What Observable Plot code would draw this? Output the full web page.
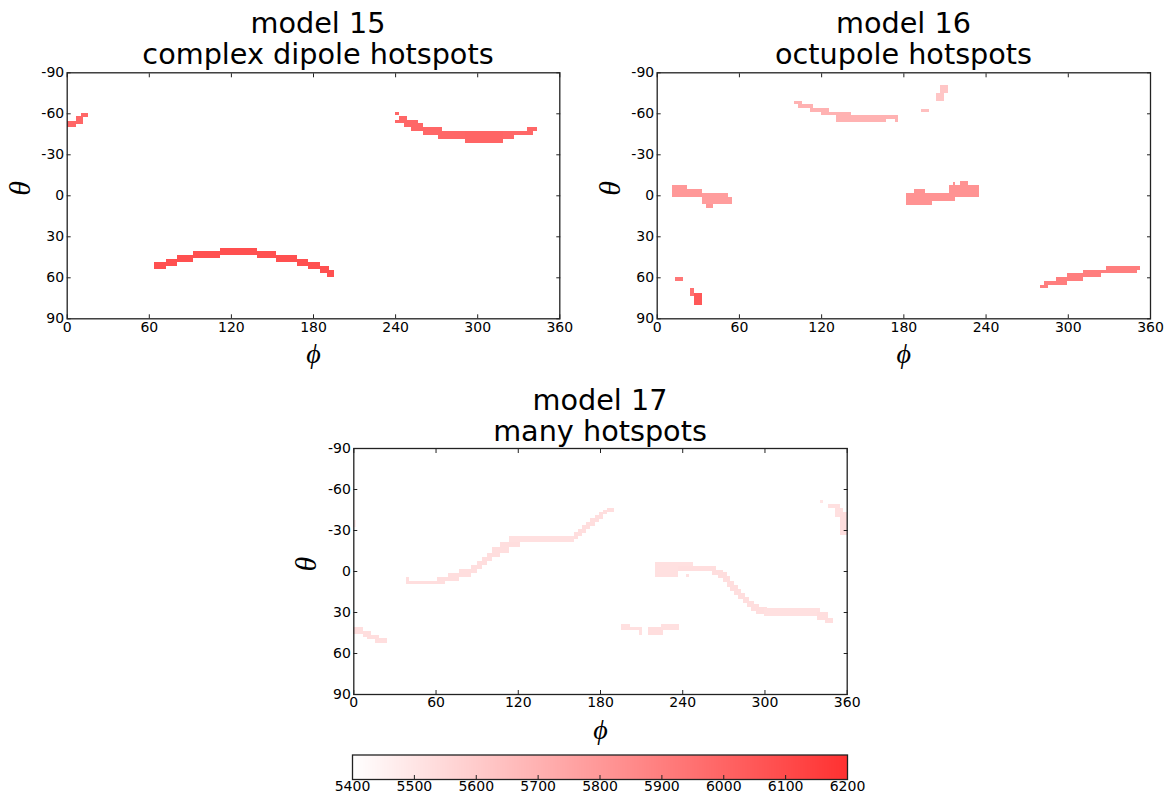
<!DOCTYPE html>
<html>
<head>
<meta charset="utf-8">
<script src="https://cdn.jsdelivr.net/npm/d3@7"></script>
<script src="https://cdn.jsdelivr.net/npm/@observablehq/plot@0.6"></script>
<style>
  body { margin: 0; background: #fff; }
  #fig { position: relative; width: 1166px; height: 797px; font-family: "DejaVu Sans", sans-serif; overflow: hidden; }
  .title { position: absolute; text-align: center; font-size: 28.7px; line-height: 31px; color: #000; white-space: nowrap; }
  .panel { position: absolute; }
</style>
</head>
<body>
<div id="fig"></div>
<script>
// Axis ticks (degrees) and colour bar ticks (K)
const phiTicks = [0, 60, 120, 180, 240, 300, 360];
const thetaTicks = [-90, -60, -30, 0, 30, 60, 90];
const tempTicks = [5400, 5500, 5600, 5700, 5800, 5900, 6000, 6100, 6200];
const tempDomain = [5400, 6200];

// Hotspot cells: [phi from, phi to, theta from, theta to, temperature]
// model 15 — complex dipole
const m15West = [
  [0, 7, -54.5, -50, 5990],
  [7, 12, -58, -52.5, 5990],
  [10.5, 15.5, -60.5, -57.5, 5990]
];
const m15North = [
  [240, 243, -61, -59, 5990],
  [240, 243, -55, -52.7, 5990],
  [243, 246.6, -58.3, -52.7, 5990],
  [246.6, 249, -58.3, -50.2, 5990],
  [249, 251.7, -54.9, -50.2, 5990],
  [251.7, 257, -54.9, -47, 5990],
  [257, 260.7, -52.7, -47, 5990],
  [260.7, 271.4, -50.2, -44.1, 5990],
  [271.4, 274.1, -50.2, -41, 5990],
  [274.1, 291.4, -46.8, -41, 5990],
  [291.4, 318.7, -46.8, -38.3, 6000],
  [318.7, 327.2, -46.8, -41, 5990],
  [327.2, 336.3, -46.8, -44.1, 5990],
  [336.3, 341.1, -49.8, -44.1, 5990],
  [341.1, 344, -49.8, -46.8, 5990]
];
const m15South = [
  [63.8, 72.4, 49, 54, 6080],
  [72.4, 80.8, 46.5, 51.5, 6080],
  [80.8, 92, 43.5, 49, 6080],
  [92, 112, 41, 46, 6080],
  [112, 139, 38.5, 44, 6080],
  [139, 153, 41, 46, 6080],
  [153, 168, 43.5, 49, 6080],
  [168, 176, 46.5, 51.5, 6080],
  [176, 185, 49, 54, 6080],
  [185, 192, 51.5, 57, 6080],
  [190, 195, 55, 60, 6080]
];

// model 16 — octupole
const m16North = [
  [100, 106, -69, -66.5, 5700],
  [103, 114, -66.5, -64, 5700],
  [112, 126, -64, -61, 5700],
  [120, 142, -61, -58.5, 5700],
  [131, 176, -58.5, -56, 5700],
  [131, 167, -56, -53.5, 5700],
  [174, 176, -56, -53.5, 5700]
];
const m16Polar = [
  [204, 210, -75, -69, 5620],
  [207, 212.5, -80.5, -75, 5620],
  [193, 199, -63.5, -61, 5650]
];
const m16EquatorWest = [
  [11, 22, -7.3, 1.2, 5800],
  [22, 33, -4.4, 1.2, 5800],
  [33, 52.3, -1.5, 6.4, 5780],
  [52.3, 55.2, 1, 6.4, 5780],
  [36, 41, 6.4, 9, 5800]
];
const m16EquatorEast = [
  [182, 201, -2, 7, 5820],
  [188, 196, -4.8, -2, 5820],
  [201, 218, -2, 4, 5820],
  [213, 235, -7.3, 1, 5820],
  [216, 218, -10, -7.3, 5820],
  [221, 227.4, -10.2, -7.3, 5820]
];
const m16South = [
  [279.4, 285.3, 65.9, 68, 5900],
  [282.3, 291.6, 62.9, 65.9, 5900],
  [291.6, 299.6, 60, 65.9, 5900],
  [299.6, 311.3, 57, 63, 5900],
  [311.3, 324.4, 54.7, 60, 5900],
  [324.4, 327.6, 54.7, 57, 5900],
  [327.6, 350.2, 51.7, 57, 5900],
  [350.2, 352.6, 51.7, 54.4, 5900]
];
const m16SouthPolar = [
  [13, 19, 60, 63, 5930],
  [24, 27.5, 68, 74, 5950],
  [27, 33, 71.3, 80, 6050]
];

// model 17 — many hotspots
const m17Belt = [
  [0, 2, -37, -32, 5460],
  [38.5, 66.9, 7.3, 9.7, 5530],
  [38.5, 41, 4.2, 7.3, 5530],
  [60.8, 77.3, 4.2, 7.3, 5530],
  [69.3, 85.7, 1.7, 4.6, 5530],
  [77.3, 90, -1.2, 1.7, 5530],
  [85.7, 94.1, -4.2, -1.2, 5530],
  [90, 97.3, -7.1, -4.2, 5530],
  [94.1, 101, -10, -7.1, 5530],
  [97.3, 107.2, -13, -10, 5530],
  [101, 113.8, -17.8, -13, 5530],
  [107.2, 121.8, -21.2, -17.8, 5530],
  [113.8, 161, -25.6, -21.2, 5520],
  [161, 164, -28.5, -23.5, 5530],
  [164, 167, -31, -25.5, 5530],
  [167, 170, -33.5, -28, 5530],
  [170, 173, -36, -30.5, 5530],
  [173, 176, -38.5, -33, 5530],
  [176, 179, -41, -35.5, 5530],
  [179, 182, -43, -38, 5530],
  [182, 185, -45, -41.5, 5530],
  [185, 190, -46, -43, 5530]
];
const m17East = [
  [340.5, 343, -52, -49.6, 5500],
  [346.6, 355.1, -49, -45.9, 5520],
  [351.5, 357.6, -46, -39.7, 5520],
  [355.1, 360, -43.4, -26.3, 5530]
];
const m17Arc = [
  [220, 248, -6.6, -3.2, 5520],
  [220, 237, -3.2, 4.6, 5520],
  [243, 245, 2.3, 4.2, 5520],
  [237, 265, -4, 0, 5530],
  [261.5, 270, -1, 3, 5530],
  [266, 272.5, 1, 5, 5530],
  [270, 275, 4, 8, 5530],
  [272.5, 277.5, 7, 11.5, 5530],
  [275, 280.5, 10, 14.5, 5530],
  [278, 283, 13, 17.5, 5530],
  [281, 286, 16, 20.5, 5530],
  [284, 289, 19, 23.5, 5530],
  [287, 292, 22, 26.5, 5530],
  [290, 296, 24.5, 29, 5530],
  [294, 302, 26.5, 31.5, 5530],
  [300, 340.5, 27.3, 32.7, 5520],
  [338.1, 346.6, 29.8, 35.8, 5530],
  [344.2, 349.8, 34.6, 38.3, 5530]
];
const m17Southern = [
  [195, 202, 38.8, 43.2, 5520],
  [202, 208.6, 41, 43.2, 5520],
  [208.6, 211, 41, 47, 5520],
  [215, 226, 40.7, 46.8, 5530],
  [224.5, 238, 38.8, 43.2, 5520],
  [0, 6.8, 40.8, 46.1, 5530],
  [6.8, 12.9, 43.6, 48.5, 5530],
  [9.7, 18.9, 46.8, 49.9, 5530],
  [15.8, 24.4, 49.3, 52.5, 5530]
];

const toCells = (...groups) => groups.flat().map(([p1, p2, t1, t2, T]) => ({p1, p2, t1, t2, T}));

const colorScale = {
  type: "linear",
  domain: tempDomain,
  range: ["#ffffff", "#ff3131"],
  interpolate: "rgb",
  clamp: true
};

const fig = document.getElementById("fig");
const fmt = d => `${d}`;
const axisColor = "#222";
const tickFont = {fontSize: 14, fontFamily: "DejaVu Sans", fill: "#000"};
const T = 4; // inward tick length

// inward-pointing tick marks, no labels
const innerTicks = (xTicks, yTicks) => [
  Plot.axisX(xTicks, {anchor: "bottom", tickSize: T, dy: -T, fill: "none", stroke: axisColor, label: null}),
  Plot.axisX(xTicks, {anchor: "top", tickSize: T, dy: T, fill: "none", stroke: axisColor, label: null}),
  ...(yTicks ? [
    Plot.axisY(yTicks, {anchor: "left", tickSize: T, dx: T, fill: "none", stroke: axisColor, label: null}),
    Plot.axisY(yTicks, {anchor: "right", tickSize: T, dx: -T, fill: "none", stroke: axisColor, label: null})
  ] : [])
];

function addTitle(lines, centerX, top) {
  const div = document.createElement("div");
  div.className = "title";
  div.style.left = (centerX - 300) + "px";
  div.style.width = "600px";
  div.style.top = top + "px";
  div.innerHTML = lines.join("<br>");
  fig.appendChild(div);
}

function addPanel(cells, box) {
  const {left, top, width, height, frame} = box;
  const [fx0, fx1, fy0, fy1] = frame; // frame edges in page pixels
  const chart = Plot.plot({
    width, height,
    marginLeft: fx0 - left,
    marginRight: left + width - fx1,
    marginTop: fy0 - top,
    marginBottom: top + height - fy1,
    style: {background: "transparent", overflow: "visible"},
    x: {domain: [0, 360]},
    y: {domain: [-90, 90], reverse: true},
    color: colorScale,
    marks: [
      Plot.rect(cells, {x1: "p1", x2: "p2", y1: "t1", y2: "t2", fill: "T", shapeRendering: "crispEdges"}),
      Plot.axisX(phiTicks, {anchor: "bottom", tickSize: 0, tickPadding: 3, tickFormat: fmt, label: null, ...tickFont}),
      Plot.axisY(thetaTicks, {anchor: "left", tickSize: 0, tickPadding: 3, tickFormat: fmt, label: null, ...tickFont}),
      ...innerTicks(phiTicks, thetaTicks),
      Plot.frame({stroke: axisColor, strokeWidth: 1.3}),
      Plot.text(["θ"], {frameAnchor: "left", dx: -47, rotate: -90, fontSize: 30, fontStyle: "italic", fontFamily: "Liberation Serif, serif"}),
      Plot.text(["ϕ"], {frameAnchor: "bottom", dy: 44, fontSize: 28, fontStyle: "italic", fontFamily: "Liberation Serif, serif"})
    ]
  });
  chart.classList.add("panel");
  chart.style.left = left + "px";
  chart.style.top = top + "px";
  fig.appendChild(chart);
}

// model 15
addTitle(["model 15", "complex dipole hotspots"], 318, 8);
addPanel(toCells(m15West, m15North, m15South), {left: 0, top: 0, width: 590, height: 380, frame: [66.7, 559.3, 72.3, 318.3]});

// model 16
addTitle(["model 16", "octupole hotspots"], 903.5, 8);
addPanel(toCells(m16North, m16Polar, m16EquatorWest, m16EquatorEast, m16South, m16SouthPolar), {left: 585, top: 0, width: 581, height: 380, frame: [656.7, 1150, 72.3, 318.3]});

// model 17
addTitle(["model 17", "many hotspots"], 600, 385);
addPanel(toCells(m17Belt, m17East, m17Arc, m17Southern), {left: 280, top: 380, width: 600, height: 360, frame: [353.3, 846.7, 448, 694]});

// colour bar
const bar = Plot.plot({
  width: 600, height: 57,
  marginLeft: 52, marginRight: 53, marginTop: 14.5, marginBottom: 18,
  style: {background: "transparent", overflow: "visible"},
  x: {domain: tempDomain},
  y: {domain: [0, 1], axis: null},
  color: colorScale,
  marks: [
    Plot.raster({fill: (x, y) => x, x1: tempDomain[0], x2: tempDomain[1], y1: 0, y2: 1, width: 495, height: 1, imageRendering: "auto"}),
    ...innerTicks(tempTicks, null).slice(0, 1),
    Plot.axisX(tempTicks, {anchor: "bottom", tickSize: 0, tickPadding: 2, tickFormat: fmt, label: null, ...tickFont}),
    Plot.frame({stroke: axisColor, strokeWidth: 1.3})
  ]
});
bar.classList.add("panel");
bar.style.left = "300px";
bar.style.top = "740px";
fig.appendChild(bar);
</script>
</body>
</html>
